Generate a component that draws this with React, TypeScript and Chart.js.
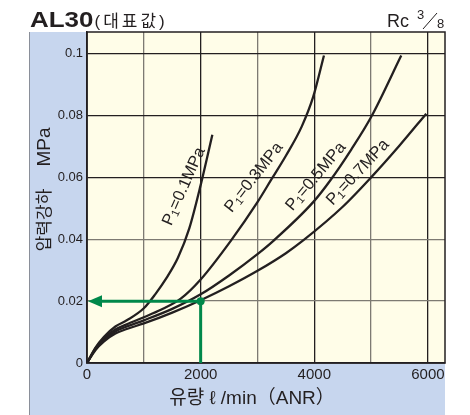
import { useEffect, useRef } from 'react';
import { Chart, registerables } from 'chart.js';

Chart.register(...registerables);

// ---- data (flow l/min ANR vs pressure drop MPa) ----
const inletPressures = ['0.1', '0.3', '0.5', '0.7'];

const flow01 = [0, 150, 300, 500, 700, 1000, 1200, 1400, 1600, 1800, 2000, 2206];
const drop01 = [0, 0.005, 0.0085, 0.0118, 0.0138, 0.0177, 0.0222, 0.0275, 0.034, 0.0435, 0.0575, 0.0738];

const flow03 = [0, 150, 300, 500, 700, 1000, 1300, 1650, 2000, 2530, 3000, 3250, 3500, 3780, 3980, 4170];
const drop03 = [0, 0.0048, 0.008, 0.0108, 0.0125, 0.0148, 0.0172, 0.0208, 0.027, 0.0395, 0.052, 0.0595, 0.067, 0.0765, 0.086, 0.0994];

const flow05 = [0, 150, 300, 500, 700, 1000, 1500, 2000, 2500, 3000, 3280, 3980, 4280, 4650, 5000, 5530];
const drop05 = [0, 0.0045, 0.0075, 0.0102, 0.0118, 0.0138, 0.0175, 0.0222, 0.0283, 0.0352, 0.0395, 0.052, 0.059, 0.069, 0.0795, 0.0994];

const flow07 = [0, 150, 300, 500, 700, 1000, 1500, 2000, 2500, 3000, 3500, 3810, 4500, 5000, 5500, 5970];
const drop07 = [0, 0.0042, 0.007, 0.0095, 0.011, 0.0128, 0.0163, 0.0203, 0.0248, 0.0298, 0.0355, 0.0397, 0.0505, 0.06, 0.0703, 0.0806];

const seriesFlows = [flow01, flow03, flow05, flow07];
const seriesDrops = [drop01, drop03, drop05, drop07];

// curve-label anchors (data coords) and angles
const labelFlow = [1707, 2939, 4029, 4769];
const labelDrop = [0.0571, 0.06, 0.0603, 0.0616];
const labelAngle = [-66, -52, -50, -47];

// reading example
const exampleFlow = 2000;
const exampleDrop = 0.02;

// axis ticks
const xGridTicks = [0, 1000, 2000, 3000, 4000, 5000, 6000];
const xTickLabels = [0, 2000, 4000, 6000];
const yGridTicks = [0, 0.02, 0.04, 0.06, 0.08, 0.1];
const yTickLabels = ['0', '0.02', '0.04', '0.06', '0.08', '0.1'];

const FONT = '"Liberation Sans", Arial, "Noto Sans CJK KR", sans-serif';
const KFONT = '"Liberation Sans", "Noto Sans CJK KR", "DejaVu Sans", sans-serif';
const INK = '#231f20';
const GRAY = '#7d7a72';
const GREEN = '#00884a';
const BLUE = '#c7d6ee';
const CREAM = '#fffde8';

function drawCurveLabel(ctx: CanvasRenderingContext2D, x: number, y: number, angle: number, num: string) {
  ctx.save();
  ctx.translate(x, y);
  ctx.rotate((angle * Math.PI) / 180);
  const parts = [
    { t: 'P', size: 16.5, dy: 0 },
    { t: '1', size: 11, dy: 3.5 },
    { t: '=' + num + 'MPa', size: 16.5, dy: 0 },
  ];
  let total = 0;
  for (const p of parts) {
    ctx.font = `${p.size}px ${FONT}`;
    total += ctx.measureText(p.t).width;
  }
  let cx = -total / 2;
  ctx.fillStyle = INK;
  ctx.textBaseline = 'middle';
  ctx.textAlign = 'left';
  for (const p of parts) {
    ctx.font = `${p.size}px ${FONT}`;
    ctx.fillText(p.t, cx, p.dy);
    cx += ctx.measureText(p.t).width;
  }
  ctx.restore();
}

const decorPlugin = {
  id: 'decor',
  beforeDraw(chart: any) {
    const { ctx, chartArea } = chart;
    ctx.save();
    ctx.fillStyle = '#ffffff';
    ctx.fillRect(0, 0, chart.width, chart.height);
    ctx.fillStyle = BLUE;
    ctx.fillRect(29, chartArea.top, chartArea.right - 29, chart.height - chartArea.top);
    ctx.strokeStyle = '#8a8f99';
    ctx.lineWidth = 1;
    ctx.beginPath();
    ctx.moveTo(29.5, chartArea.top);
    ctx.lineTo(29.5, chart.height);
    ctx.stroke();
    ctx.fillStyle = CREAM;
    ctx.fillRect(chartArea.left, chartArea.top, chartArea.right - chartArea.left, chartArea.bottom - chartArea.top);
    ctx.restore();
  },
  afterDatasetsDraw(chart: any) {
    const { ctx, chartArea } = chart;
    const xs = chart.scales.x;
    const ys = chart.scales.y;
    ctx.save();
    ctx.strokeStyle = INK;
    ctx.lineWidth = 1.5;
    ctx.strokeRect(chartArea.left, chartArea.top, chartArea.right - chartArea.left, chartArea.bottom - chartArea.top);

    for (let i = 0; i < inletPressures.length; i++) {
      drawCurveLabel(ctx, xs.getPixelForValue(labelFlow[i]), ys.getPixelForValue(labelDrop[i]), labelAngle[i], inletPressures[i]);
    }

    const px = xs.getPixelForValue(exampleFlow);
    const py = ys.getPixelForValue(exampleDrop);
    const x0 = xs.getPixelForValue(0);
    const y0 = ys.getPixelForValue(0);
    ctx.strokeStyle = GREEN;
    ctx.fillStyle = GREEN;
    ctx.lineWidth = 3;
    ctx.beginPath();
    ctx.moveTo(px, y0);
    ctx.lineTo(px, py);
    ctx.lineTo(x0 + 12, py);
    ctx.stroke();
    ctx.beginPath();
    ctx.moveTo(x0 + 1, py);
    ctx.lineTo(x0 + 15, py - 6);
    ctx.lineTo(x0 + 15, py + 6);
    ctx.closePath();
    ctx.fill();
    ctx.beginPath();
    ctx.arc(px, py, 4, 0, Math.PI * 2);
    ctx.fill();
    ctx.restore();
  },
  afterDraw(chart: any) {
    const { ctx } = chart;
    ctx.save();
    ctx.fillStyle = INK;
    ctx.textBaseline = 'alphabetic';
    ctx.textAlign = 'left';
    // title
    ctx.save();
    ctx.translate(30, 27);
    ctx.scale(1.18, 1);
    ctx.font = `bold 22px ${FONT}`;
    ctx.fillText('AL30', 0, 0);
    const w = ctx.measureText('AL30').width * 1.18;
    ctx.restore();
    ctx.font = `17px ${KFONT}`;
    (ctx as any).letterSpacing = '3px';
    ctx.fillText('(대표값)', 30 + w + 1, 27);
    (ctx as any).letterSpacing = '0px';
    // Rc 3/8
    ctx.font = `18px ${FONT}`;
    ctx.fillText('Rc', 387, 27);
    ctx.font = `13px ${FONT}`;
    ctx.fillText('3', 417, 19);
    ctx.fillText('8', 437, 28);
    ctx.strokeStyle = INK;
    ctx.lineWidth = 1;
    ctx.beginPath();
    ctx.moveTo(423, 29);
    ctx.lineTo(437, 13);
    ctx.stroke();

    // axis titles
    ctx.font = `19px ${KFONT}`;
    ctx.textAlign = 'center';
    ctx.textBaseline = 'middle';
    ctx.fillText('유량 ℓ /min（ANR）', 252, 399);

    ctx.save();
    ctx.translate(45, 190);
    ctx.rotate(-Math.PI / 2);
    ctx.font = `17px ${KFONT}`;
    ctx.fillText('압력강하', -30, 0);
    ctx.font = `19px ${FONT}`;
    ctx.fillText('MPa', 43, 0);
    ctx.restore();
    ctx.restore();
  },
};

export default function App() {
  const ref = useRef<HTMLCanvasElement | null>(null);
  useEffect(() => {
    document.body.style.margin = '0';
    const canvas = ref.current;
    if (!canvas) return;
    const chart = new Chart(canvas, {
      type: 'scatter',
      data: {
        datasets: seriesFlows.map((fl, si) => ({
          label: 'P1=' + inletPressures[si] + 'MPa',
          data: fl.map((f, i) => ({ x: f, y: seriesDrops[si][i] })),
          showLine: true,
          borderColor: INK,
          borderWidth: 2.3,
          pointRadius: 0,
          cubicInterpolationMode: 'monotone' as const,
          fill: false,
        })),
      },
      options: {
        responsive: false,
        devicePixelRatio: 1,
        animation: false,
        layout: { padding: { left: 0, right: 25, top: 32, bottom: 0 } },
        plugins: { legend: { display: false }, tooltip: { enabled: false }, title: { display: false } },
        scales: {
          x: {
            type: 'linear',
            min: 0,
            max: 6300,
            afterFit: (s: any) => { s.height = 52; },
            afterBuildTicks: (s: any) => { s.ticks = xGridTicks.map((v) => ({ value: v })); },
            ticks: {
              autoSkip: false,
              maxRotation: 0,
              minRotation: 0,
              padding: 3,
              color: INK,
              font: { size: 15, family: FONT },
              callback: (v: any) => {
                const n = Math.round(Number(v));
                return xTickLabels.indexOf(n) >= 0 ? String(n) : '';
              },
            },
            grid: {
              drawTicks: false,
              lineWidth: 1.3,
              color: (c: any) => (c.tick && Math.round(c.tick.value) % 2000 === 0 ? INK : GRAY),
            },
            border: { display: true, color: INK, width: 1.5 },
          },
          y: {
            type: 'linear',
            min: 0,
            max: 0.107,
            afterFit: (s: any) => { s.width = 87; },
            afterBuildTicks: (s: any) => { s.ticks = yGridTicks.map((v) => ({ value: v })); },
            ticks: {
              autoSkip: false,
              padding: 4,
              color: INK,
              font: { size: 13, family: FONT },
              callback: (_v: any, i: number) => yTickLabels[i] ?? '',
            },
            grid: {
              drawTicks: false,
              lineWidth: 1.3,
              color: (c: any) => (c.tick && c.tick.value > 0.05 ? INK : GRAY),
            },
            border: { display: true, color: INK, width: 1.5 },
          },
        },
      },
      plugins: [decorPlugin],
    });
    return () => chart.destroy();
  }, []);
  return (
    <div style={{ position: 'absolute', left: 0, top: 0, width: 470, height: 415 }}>
      <canvas ref={ref} width={470} height={415} style={{ width: 470, height: 415, display: 'block' }} />
    </div>
  );
}
